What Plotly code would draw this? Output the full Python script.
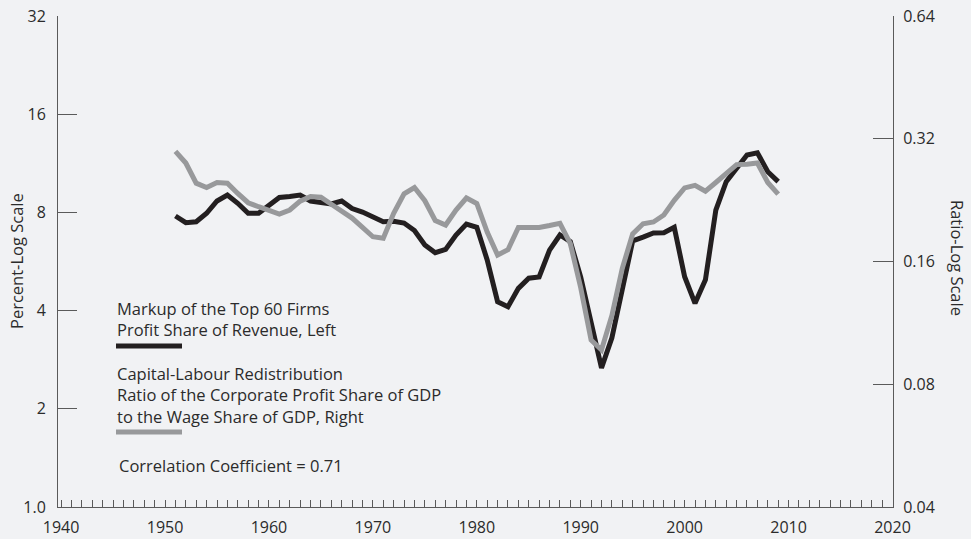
import plotly.graph_objects as go

# ---- data ----
years = list(range(1951, 2010))

markup_top60 = [
    7.80, 7.44, 7.49, 7.95, 8.67, 9.04, 8.53, 7.95, 7.95, 8.43,
    8.89, 8.95, 9.04, 8.67, 8.61, 8.49, 8.67, 8.22, 8.02, 7.72,
    7.49, 7.51, 7.42, 7.04, 6.36, 6.02, 6.16, 6.82, 7.37, 7.20,
    5.72, 4.26, 4.11, 4.68, 5.03, 5.07, 6.13, 6.82, 6.51, 5.07,
    3.61, 2.67, 3.30, 4.63, 6.54, 6.72, 6.92, 6.93, 7.20, 5.08,
    4.21, 4.97, 8.13, 9.94, 10.94, 12.00, 12.19, 10.66, 9.94,
]

capital_labour_ratio = [
    0.298, 0.279, 0.249, 0.243, 0.250, 0.249, 0.235, 0.223, 0.218, 0.213,
    0.209, 0.214, 0.225, 0.231, 0.230, 0.221, 0.213, 0.2045, 0.194, 0.184,
    0.1825, 0.210, 0.2345, 0.243, 0.2255, 0.2017, 0.1966, 0.214, 0.229, 0.222,
    0.189, 0.166, 0.171, 0.194, 0.194, 0.194, 0.196, 0.1985, 0.177, 0.138,
    0.1027, 0.0971, 0.118, 0.154, 0.187, 0.198, 0.200, 0.208, 0.226, 0.2425,
    0.246, 0.238, 0.250, 0.264, 0.2765, 0.277, 0.279, 0.250, 0.234,
]

left_ticks = [1, 2, 4, 8, 16, 32]
left_ticktext = ["1.0", "2", "4", "8", "16", "32"]
right_ticks = [0.04, 0.08, 0.16, 0.32, 0.64]
right_ticktext = ["0.04", "0.08", "0.16", "0.32", "0.64"]

BG = "#f1f2f4"
BLACK = "#231f20"
GRAY = "#98999b"
AXIS = "#5a5a5a"
TXT = "#2b2b2b"
FONT = "Open Sans"

fig = go.Figure()
fig.add_trace(go.Scatter(x=years, y=markup_top60, mode="lines",
                         line=dict(color=BLACK, width=5), yaxis="y",
                         showlegend=False, hoverinfo="x+y"))
fig.add_trace(go.Scatter(x=years, y=capital_labour_ratio, mode="lines",
                         line=dict(color=GRAY, width=5), yaxis="y2",
                         showlegend=False, hoverinfo="x+y"))

fig.update_layout(
    width=971, height=539,
    paper_bgcolor=BG, plot_bgcolor=BG,
    margin=dict(l=58, r=78, t=16, b=32, autoexpand=False),
    font=dict(family=FONT, size=15, color=TXT),
    xaxis=dict(
        range=[1939.7, 2020.05], showgrid=False, zeroline=False, automargin=False,
        tick0=1940, dtick=10, ticks="inside", ticklen=7, tickcolor=AXIS, tickwidth=1,
        minor=dict(dtick=1, tick0=1940, ticks="inside", ticklen=7, tickcolor=AXIS, tickwidth=1, showgrid=False),
        showline=True, linecolor=AXIS, linewidth=1,
        tickfont=dict(size=16, color=TXT), ticklabelstandoff=6,
    ),
    yaxis=dict(
        type="log", range=[0, 1.50515], showgrid=False, zeroline=False, automargin=False,
        tickvals=left_ticks, ticktext=left_ticktext,
        ticks="inside", ticklen=19, tickcolor=AXIS, tickwidth=1,
        showline=True, linecolor=AXIS, linewidth=1,
        tickfont=dict(size=16, color=TXT), ticklabelstandoff=8,
    ),
    yaxis2=dict(
        type="log", range=[-1.39794, -0.19382], overlaying="y", side="right",
        showgrid=False, zeroline=False, automargin=False,
        tickvals=right_ticks, ticktext=right_ticktext,
        ticks="inside", ticklen=20, tickcolor=AXIS, tickwidth=1,
        showline=True, linecolor=AXIS, linewidth=1,
        tickfont=dict(size=16, color=TXT), ticklabelstandoff=6,
    ),
)

def px_x(px):
    return (px - 58) / 835.0

def px_y(py):
    return (507 - py) / 491.0

annotations = [
    dict(text="Percent-Log Scale", x=px_x(16), y=px_y(261), textangle=-90, size=16.5),
    dict(text="Ratio-Log Scale", x=px_x(958), y=px_y(258), textangle=90, size=16.5),
]
legend_lines = [
    ("Markup of the Top 60 Firms", 115, 308),
    ("Profit Share of Revenue, Left", 115, 330),
    ("Capital-Labour Redistribution", 115, 373.5),
    ("Ratio of the Corporate Profit Share of GDP", 115, 395),
    ("to the Wage Share of GDP, Right", 115, 416.5),
    ("Correlation Coefficient = 0.71", 117, 465.5),
]
for t, x, y in legend_lines:
    annotations.append(dict(text=t, x=px_x(x), y=px_y(y), xanchor="left", size=16.5))

for a in annotations:
    sz = a.pop("size")
    a.update(xref="paper", yref="paper", showarrow=False,
             font=dict(family=FONT, size=sz, color=TXT))
    a.setdefault("xanchor", "center")
    a.setdefault("yanchor", "middle")
fig.update_layout(annotations=annotations)

fig.update_layout(shapes=[
    dict(type="line", xref="paper", yref="paper",
         x0=px_x(116), x1=px_x(182), y0=px_y(346), y1=px_y(346),
         line=dict(color=BLACK, width=5)),
    dict(type="line", xref="paper", yref="paper",
         x0=px_x(116), x1=px_x(182), y0=px_y(432), y1=px_y(432),
         line=dict(color=GRAY, width=5)),
])

fig.write_html("out.html",
               config={"displayModeBar": False},
               post_script="document.body.style.margin='0';document.body.style.padding='0';")
